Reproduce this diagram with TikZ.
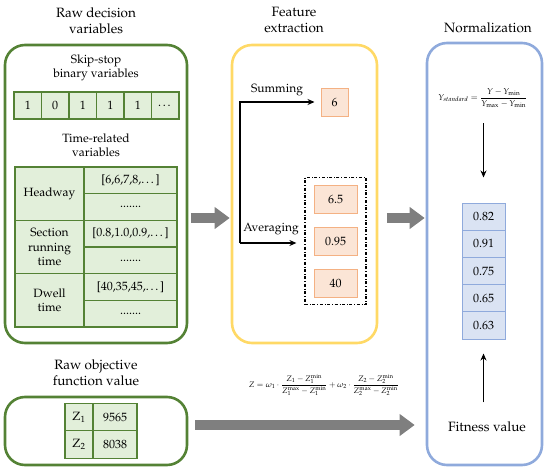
\documentclass[tikz,border=0pt]{standalone}
\usepackage[T1]{fontenc}
\usepackage{mathpazo}
\usepackage{amsmath}
\usepackage{tikz}
\usetikzlibrary{arrows.meta,positioning,fit,calc}
\definecolor{greenEdge}{RGB}{84,130,53}
\definecolor{greenCell}{RGB}{226,239,218}
\definecolor{yellowEdge}{RGB}{255,217,102}
\definecolor{orangeEdge}{RGB}{244,177,131}
\definecolor{orangeCell}{RGB}{251,229,214}
\definecolor{blueEdge}{RGB}{143,170,220}
\definecolor{blueCell}{RGB}{218,227,243}
\definecolor{arrowGray}{RGB}{127,127,127}

\begin{document}
\begin{tikzpicture}[x=1pt,y=-1pt,
  heading/.style={align=center,font=\fontsize{13.5}{16.5}\selectfont},
  txt/.style={align=center,font=\fontsize{12}{14}\selectfont},
  panel/.style={draw=#1,line width=2.6pt,rounded corners=20pt},
  greencell/.style={draw=greenEdge,fill=greenCell,line width=1.2pt,inner sep=0pt,
                    align=center,font=\fontsize{12}{14.5}\selectfont},
  orangebox/.style={draw=orangeEdge,fill=orangeCell,line width=1pt,inner sep=0pt,
                    minimum height=28pt,font=\fontsize{12}{14}\selectfont},
  bluecell/.style={draw=blueEdge,fill=blueCell,line width=1pt,inner sep=0pt,
                   minimum width=43pt,minimum height=27.2pt,font=\fontsize{12}{14}\selectfont},
  flow/.style={-{Stealth[length=7pt,width=6pt]},line width=1.2pt},
  bigarrow/.style={draw=arrowGray,line width=10pt,-{Triangle[width=21pt,length=15pt]}}]

\useasboundingbox (0,0) rectangle (550,474);

% panels
\node[panel=greenEdge,minimum width=182pt,minimum height=298pt] (dec) at (96,194) {};
\node[panel=greenEdge,minimum width=182pt,minimum height=68pt] (obj) at (96,431) {};
\node[panel=yellowEdge,minimum width=145pt,minimum height=298pt] (feat) at (304.5,194) {};
\node[panel=blueEdge,minimum width=115pt,minimum height=422pt] (norm) at (484.5,254) {};

\node[heading] (decT) at (96,21) {Raw decision\\variables};
\node[heading] (objT) at (96,373) {Raw objective\\function value};
\node[heading] (featT) at (294,20) {Feature\\extraction};
\node[heading] (normT) at (488,28) {Normalization};

% decision variables
\node[txt] (skipT) at (96,68) {Skip-stop\\binary variables};
\foreach \v [count=\i] in {1,0,1,1,1,\dots}
  \node[greencell,minimum width=27.5pt,minimum height=27pt] (b\i) at ({14+27.5*(\i-0.5)},105.5) {\v};

\node[txt] (timeT) at (96,145) {Time-related\\variables};
\foreach \key/\txt/\val [count=\r] in {head/Headway/{[6,6,7,8,\dots]},
    run/{Section\\running\\time}/{[0.8,1.0,0.9,\dots]},
    dwell/{Dwell\\time}/{[40,35,45,\dots]}} {
  \node[greencell,minimum width=69pt,minimum height=53.3pt] (\key) at (49.5,{167+53.33*(\r-1)+26.67}) {\txt};
  \node[greencell,minimum width=93pt,minimum height=26.7pt] (\key1) at (130.5,{167+53.33*(\r-1)+13.33}) {\val};
  \node[greencell,minimum width=93pt,minimum height=26.7pt] (\key2) at (130.5,{167+53.33*(\r-1)+40}) {.......};
}

% objective values
\node[greencell,minimum width=28pt,minimum height=27.5pt] (z1) at (79,417) {Z$_1$};
\node[greencell,minimum width=44pt,minimum height=27.5pt] (z1v) at (115,417) {9565};
\node[greencell,minimum width=28pt,minimum height=27.5pt] (z2) at (79,444.5) {Z$_2$};
\node[greencell,minimum width=44pt,minimum height=27.5pt] (z2v) at (115,444.5) {8038};

% feature extraction
\node[orangebox,minimum width=27pt] (s6) at (334.5,102) {6};
\node[orangebox,minimum width=43pt] (v1) at (335.5,199) {6.5};
\node[orangebox,minimum width=43pt] (v2) at (335.5,241.5) {0.95};
\node[orangebox,minimum width=43pt] (v3) at (335.5,283) {40};
\node[draw,dash dot,line width=1.2pt,inner xsep=8.5pt,inner ysep=7pt,fit=(v1)(v3)] (grp) {};

\coordinate (fork) at (240,243);
\draw[flow] (fork) |- ([xshift=-6pt]s6.west);
\draw[flow] (fork) -- ([xshift=-8pt]grp.west |- fork);
\node[txt] (sumT) at (277,90) {Summing};
\node[txt] (avgT) at (271,229) {Averaging};

% normalization
\node[font=\fontsize{8.5}{10}\selectfont] (yform) at (483,98)
  {$\displaystyle Y_{standard}=\frac{Y-Y_{\min}}{Y_{\max}-Y_{\min}}$};
\foreach \v [count=\i] in {0.82,0.91,0.75,0.65,0.63}
  \node[bluecell] (n\i) at (483.5,{203+27.2*(\i-0.5)}) {\v};
\node[heading] (fitT) at (487,427) {Fitness value};
\draw[flow,shorten <=12pt,shorten >=25pt] (yform.south -| n1.north) -- (n1.north);
\draw[flow,shorten <=16pt,shorten >=14pt] (fitT.north -| n5.south) -- (n5.south);

\node[font=\fontsize{8}{10}\selectfont] (zform) at (324,385)
  {$\displaystyle Z=\omega_1\cdot\frac{Z_1-Z_1^{\min}}{Z_1^{\max}-Z_1^{\min}}+\omega_2\cdot\frac{Z_2-Z_2^{\min}}{Z_2^{\max}-Z_2^{\min}}$};

% flow between panels
\draw[bigarrow,shorten <=2.5pt,shorten >=1pt] (dec.east |- 0,218) -- (feat.west |- 0,218);
\draw[bigarrow,shorten <=8.5pt,shorten >=1pt] (feat.east |- 0,218) -- (norm.west |- 0,218);
\draw[bigarrow,shorten <=7pt,shorten >=11pt] (obj.east |- 0,425) -- (norm.west |- 0,425);

\end{tikzpicture}
\end{document}
